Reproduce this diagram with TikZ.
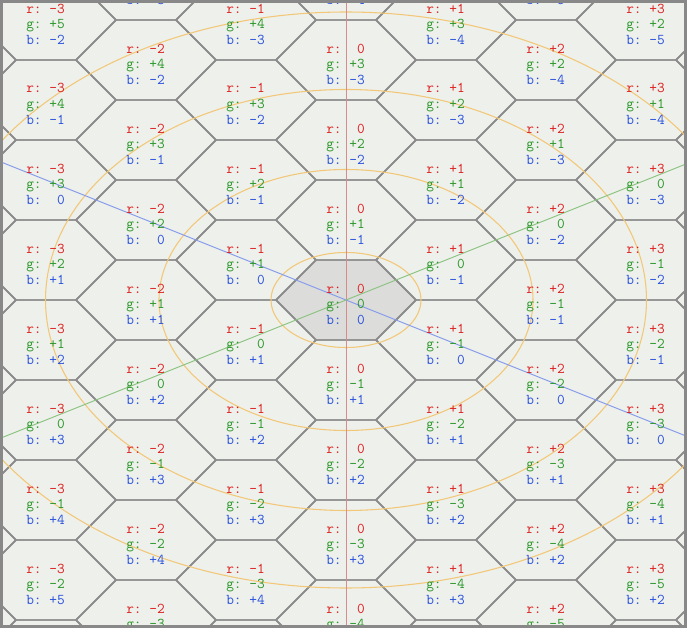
\documentclass[tikz,border=0pt]{standalone}
\usepackage{fontspec}
\frenchspacing
\definecolor{bgc}{RGB}{238,240,235}
\definecolor{hexgray}{RGB}{140,140,140}
\definecolor{framegray}{RGB}{136,136,136}
\definecolor{centerfill}{RGB}{220,221,219}
\definecolor{tred}{RGB}{220,30,30}
\definecolor{tgreen}{RGB}{40,150,40}
\definecolor{tblue}{RGB}{40,80,220}
\definecolor{ellc}{RGB}{242,200,120}
\definecolor{axr}{RGB}{215,140,140}
\definecolor{axg}{RGB}{140,195,130}
\definecolor{axb}{RGB}{135,155,235}
\newcommand\fmtv[1]{\ifnum#1>0 +#1\else\ifnum#1=0 ~0\else #1\fi\fi}
\begin{document}
\begin{tikzpicture}[x=0.75pt,y=-0.75pt,
  hexedge/.style={draw=hexgray,line width=1.1pt},
  ring/.style={draw=ellc,line width=0.8pt},
  axis/.style={line width=0.7pt},
  lbl/.style={anchor=base west,inner sep=0pt,font=\fontsize{11.2pt}{13pt}\selectfont\ttfamily}]
\useasboundingbox (0,0) rectangle (687,628);
\fill[bgc] (0,0) rectangle (687,628);
\begin{scope}
\clip (0,0) rectangle (687,628);
% centre hex
\fill[centerfill] (276,300) -- (316,260) -- (376,260) -- (416,300) -- (376,340) -- (316,340) -- cycle;
% hex grid
\foreach \r in {-4,...,4} {
  \foreach \g in {-9,...,9} {
    \pgfmathsetmacro\cx{346+100*\r}
    \pgfmathsetmacro\cy{300-40*\r-80*\g}
    \draw[hexedge,line join=round] (\cx-70,\cy) -- (\cx-30,\cy-40) -- (\cx+30,\cy-40) -- (\cx+70,\cy) -- (\cx+30,\cy+40) -- (\cx-30,\cy+40) -- cycle;
  }
}
% rings
\coordinate (o) at (346,300);
\draw[ring] (o) ellipse [x radius=75, y radius=47.5];
\draw[ring] (o) ellipse [x radius=187, y radius=130.5];
\draw[ring] (o) ellipse [x radius=300.5, y radius=210.5];
\draw[ring] (o) ellipse [x radius=413, y radius=288];
% axes
\coordinate (rtop) at (346,0);
\coordinate (rbot) at (346,628);
\coordinate (bl) at (0,161.6);
\coordinate (br) at (687,436.4);
\coordinate (gl) at (0,438.4);
\coordinate (gr) at (687,163.6);
\draw[axis,axr] (rtop) -- (rbot);
\draw[axis,axb] (bl) -- (br);
\draw[axis,axg] (gl) -- (gr);
% labels
\foreach \r in {-3,...,3} {
  \foreach \g in {-9,...,9} {
    \pgfmathsetmacro\cx{346+100*\r}
    \pgfmathsetmacro\cy{300-40*\r-80*\g}
    \pgfmathtruncatemacro\b{-\r-\g}
    \pgfmathtruncatemacro\vis{and(\cy>-50,\cy<690)}
    \pgfmathtruncatemacro\idx{(\r+4)*100+(\g+10)}
    \ifnum\vis=1
      \node[lbl,text=tred] (lr\idx) at (\cx-20,\cy-7) {r:~\fmtv{\r}};
      \node[lbl,text=tgreen] (lg\idx) at (\cx-20,\cy+8.5) {g:~\fmtv{\g}};
      \node[lbl,text=tblue] (lb\idx) at (\cx-20,\cy+24.3) {b:~\fmtv{\b}};
    \fi
  }
}
\end{scope}
\draw[draw=framegray,line width=1.9pt] (1.25,1.25) rectangle (685.75,626.75);
\end{tikzpicture}
\end{document}
